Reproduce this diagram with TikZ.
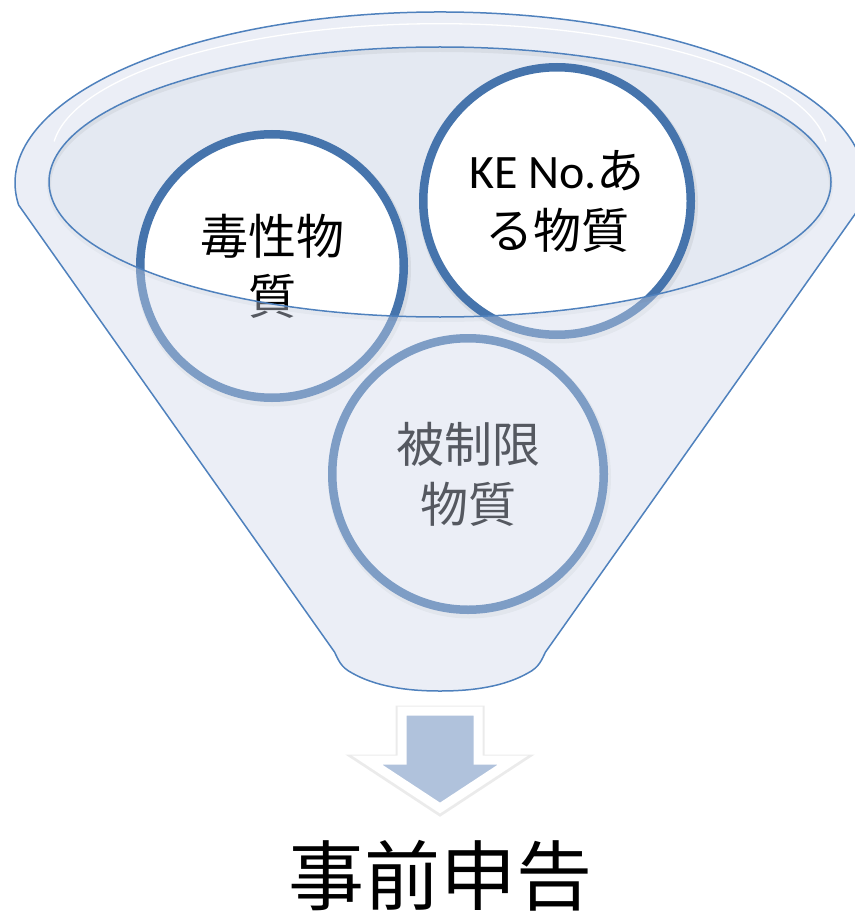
\documentclass[tikz,border=0pt]{standalone}
\usepackage{fontspec}
\newfontfamily\jp{Noto Sans CJK JP}
\newfontfamily\lat{Carlito}
\definecolor{funnelline}{RGB}{79,129,189}
\definecolor{innerfill}{RGB}{228,233,242}
\definecolor{ringblue}{RGB}{70,116,172}
\definecolor{veil}{RGB}{207,216,235}
\definecolor{arrowfill}{RGB}{176,194,220}
\tikzset{
  ring/.style={circle, draw=ringblue, line width=8.5pt, fill=white, inner sep=0pt,
    align=center, font=\jp\fontsize{48}{60}\selectfont, text=black},
  outline/.style={draw=funnelline, line width=1.5pt},
}
\def\funnelpath{(18.6,205) arc[start angle=172.6, end angle=367.4, x radius=425, y radius=171]
  -- (545.5,652) .. controls (541.5,660) and (539.5,667) .. (528,673)
  .. controls (505,686) and (475,691) .. (440,691)
  .. controls (405,691) and (375,686) .. (352,673)
  .. controls (340.5,667) and (338.5,660) .. (334.5,652) -- cycle}
\begin{document}
\begin{tikzpicture}[x=1pt,y=-1pt]
\useasboundingbox (0,0) rectangle (854,912);
% funnel back
\fill[white] \funnelpath;
% opening (back wall)
\fill[innerfill] (440,182) ellipse[x radius=391, y radius=135];
% circle shadows
\foreach \cx/\cy/\r in {272/266/132, 557/201/134, 468/474/136}
  \draw[black, opacity=0.06, line width=11pt] (\cx+1.5,\cy+3) circle[radius=\r];
% circles
\node[ring, minimum size=263.5pt] (c1) at (272,266) {毒性物\\質};
\node[ring, minimum size=267.5pt] (c2) at (557,201) {{\lat KE No.}あ\\る物質};
\node[ring, minimum size=271.5pt] (c3) at (468,474) {被制限\\物質};
% shadow under the rim of the opening
\draw[black, opacity=0.05, line width=4pt] (440,185) ellipse[x radius=391, y radius=135];
% front wall (semi-transparent)
\fill[veil, fill opacity=0.41, even odd rule] \funnelpath (440,182) ellipse[x radius=391, y radius=135];
% outlines
\draw[outline] \funnelpath;
\draw[outline] (440,182) ellipse[x radius=391, y radius=135];
\draw[white, line width=1.3pt] (440,182) ++(186:388) arc[start angle=186, end angle=354, x radius=388, y radius=131.5];
% arrow
\draw[black, opacity=0.08, line width=13pt, line join=miter]
  (402,712) -- (478,712) -- (478,761) -- (513,761) -- (440,809) -- (367,761) -- (402,761) -- cycle;
\draw[fill=arrowfill, draw=white, line width=9pt, line join=miter]
  (402,711) -- (478,711) -- (478,760) -- (513,760) -- (440,808) -- (367,760) -- (402,760) -- cycle;
% label
\node[font=\jp\fontsize{76}{80}\selectfont, inner sep=0pt] (t) at (440,876) {事前申告};
\end{tikzpicture}
\end{document}
